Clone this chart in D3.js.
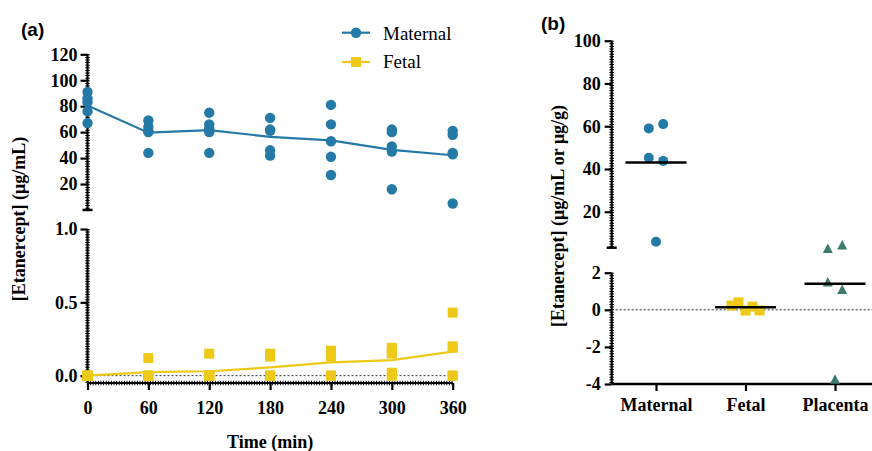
<!DOCTYPE html>
<html>
<head>
<meta charset="utf-8">
<script src="https://cdn.jsdelivr.net/npm/d3@7"></script>
<style>
  body { margin: 0; background: #fff; }
  svg { display: block; }
  .tick-text { font-family: "Liberation Serif", serif; font-weight: bold; font-size: 18px; fill: #000; }
  .axis-title { font-family: "Liberation Serif", serif; font-weight: bold; font-size: 18px; fill: #000; }
  .legend-text { font-family: "Liberation Serif", serif; font-size: 19px; fill: #000; }
  .panel-label { font-family: "Liberation Sans", Arial, sans-serif; font-weight: bold; font-size: 19px; fill: #000; }
</style>
</head>
<body>
<div id="chart"></div>
<script>
const TIME_POINTS = [0, 60, 120, 180, 240, 300, 360];
const MATERNAL_A = [
  [91, 86, 83, 76, 67],
  [69, 64, 61, 60, 44],
  [75, 66, 63, 60, 44],
  [71, 62, 61, 46, 42],
  [81, 66, 53, 41, 27],
  [62, 60, 49, 45, 16],
  [61, 58, 44, 43, 5],
];
const FETAL_A = [
  [0, 0, 0, 0, 0],
  [0.12, 0, 0, 0, 0],
  [0.15, 0, 0, 0, 0],
  [0.15, 0.13, 0, 0, 0],
  [0.17, 0.15, 0.13, 0, 0],
  [0.19, 0.17, 0.15, 0.02, 0],
  [0.43, 0.2, 0.19, 0, 0],
];
const A_UPPER_TICKS = [20, 40, 60, 80, 100, 120];
const A_LOWER_TICKS = [0, 0.5, 1.0];

const GROUPS_B = ["Maternal", "Fetal", "Placenta"];
const MATERNAL_B = [59, 61, 45.3, 43.8, 6];
const FETAL_B = [0.23, 0.4, -0.04, 0.17, -0.04];
const PLACENTA_B = [3.3, 3.5, 1.5, 1.1, -3.75];
const MEAN_LINES_B = [43, 0.14, 1.4];
const B_UPPER_TICKS = [20, 40, 60, 80, 100];
const B_LOWER_TICKS = [-4, -2, 0, 2];

const BLUE = "#2479a7";
const YELLOW = "#eec918";
const TEAL = "#3d7b6e";

const width = 872;
const height = 451;
const svg = d3.select("#chart").append("svg").attr("width", width).attr("height", height);

// axis line with the small ruler-like minor ticks
function rulerLine(g, x1, y1, x2, y2) {
  g.append("line").attr("x1", x1).attr("y1", y1).attr("x2", x2).attr("y2", y2)
    .attr("stroke", "#000").attr("stroke-width", 2.2);
  g.append("line").attr("x1", x1).attr("y1", y1).attr("x2", x2).attr("y2", y2)
    .attr("stroke", "#000").attr("stroke-width", 4.5).attr("stroke-dasharray", "1,1.6");
}

function cap(g, x, y) {
  g.append("line").attr("x1", x - 5).attr("x2", x + 5).attr("y1", y).attr("y2", y)
    .attr("stroke", "#000").attr("stroke-width", 2.5);
}

function styleAxis(group, cls) {
  group.select(".domain").remove();
  group.selectAll(".tick line").attr("stroke", "#000").attr("stroke-width", 2.2);
  group.selectAll("text").attr("class", cls).attr("fill", "#000");
}

function square(g, cx, cy, size, color) {
  g.append("rect").attr("x", cx - size / 2).attr("y", cy - size / 2)
    .attr("width", size).attr("height", size).attr("fill", color);
}

// ---------- panel (a) ----------
const xA = d3.scaleLinear().domain([0, 360]).range([87.5, 452.7]);
const yAUp = d3.scaleLinear().domain([0, 120]).range([210, 54.3]);
const yALow = d3.scaleLinear().domain([-0.05, 1]).range([383, 229]);

const panelA = svg.append("g");

panelA.append("g")
  .attr("transform", `translate(${xA(0)},0)`)
  .call(d3.axisLeft(yAUp).tickValues(A_UPPER_TICKS).tickSize(7).tickPadding(3))
  .call((g) => styleAxis(g, "tick-text"));

panelA.append("g")
  .attr("transform", `translate(${xA(0)},0)`)
  .call(d3.axisLeft(yALow).tickValues(A_LOWER_TICKS).tickSize(7).tickPadding(3).tickFormat(d3.format(".1f")))
  .call((g) => styleAxis(g, "tick-text"));

panelA.append("g")
  .attr("transform", `translate(0,${yALow(-0.05)})`)
  .call(d3.axisBottom(xA).tickValues(TIME_POINTS).tickSize(7).tickPadding(11))
  .call((g) => styleAxis(g, "tick-text"));

rulerLine(panelA, xA(0), yAUp(120), xA(0), yAUp(0));
cap(panelA, xA(0), yAUp(0));
rulerLine(panelA, xA(0), yALow(1), xA(0), yALow(-0.05));
rulerLine(panelA, xA(0), yALow(-0.05), xA(360), yALow(-0.05));

panelA.append("line")
  .attr("x1", xA(0)).attr("x2", xA(360)).attr("y1", yALow(0)).attr("y2", yALow(0))
  .attr("stroke", "#333").attr("stroke-width", 1).attr("stroke-dasharray", "2,2");

const maternalMeans = MATERNAL_A.map((vals, i) => ({ t: TIME_POINTS[i], v: d3.mean(vals) }));
const fetalMeans = FETAL_A.map((vals, i) => ({ t: TIME_POINTS[i], v: d3.mean(vals) }));

panelA.append("path")
  .datum(maternalMeans)
  .attr("fill", "none").attr("stroke", BLUE).attr("stroke-width", 2.2)
  .attr("d", d3.line().x((d) => xA(d.t)).y((d) => yAUp(d.v)));

panelA.append("path")
  .datum(fetalMeans)
  .attr("fill", "none").attr("stroke", YELLOW).attr("stroke-width", 2.2)
  .attr("d", d3.line().x((d) => xA(d.t)).y((d) => yALow(d.v)));

const maternalPts = MATERNAL_A.flatMap((vals, i) => vals.map((v) => ({ t: TIME_POINTS[i], v })));
const fetalPts = FETAL_A.flatMap((vals, i) => vals.map((v) => ({ t: TIME_POINTS[i], v })));

panelA.append("g").selectAll("circle").data(maternalPts).join("circle")
  .attr("cx", (d) => xA(d.t)).attr("cy", (d) => yAUp(d.v)).attr("r", 5.2).attr("fill", BLUE);

panelA.append("g").selectAll("rect").data(fetalPts).join("rect")
  .attr("x", (d) => xA(d.t) - 5).attr("y", (d) => yALow(d.v) - 5)
  .attr("width", 10).attr("height", 10).attr("fill", YELLOW);

panelA.append("text").attr("class", "axis-title")
  .attr("x", (xA(0) + xA(360)) / 2).attr("y", 448).attr("text-anchor", "middle")
  .text("Time (min)");

panelA.append("text").attr("class", "axis-title")
  .attr("transform", "translate(25,219) rotate(-90)").attr("text-anchor", "middle")
  .text("[Etanercept] (μg/mL)");

panelA.append("text").attr("class", "panel-label").attr("x", 21).attr("y", 36).text("(a)");

// legend
const legend = panelA.append("g").attr("transform", "translate(342,0)");
legend.append("line").attr("x1", 0).attr("x2", 28).attr("y1", 32.7).attr("y2", 32.7)
  .attr("stroke", BLUE).attr("stroke-width", 2.2);
legend.append("circle").attr("cx", 14).attr("cy", 32.7).attr("r", 5.2).attr("fill", BLUE);
legend.append("text").attr("class", "legend-text").attr("x", 41).attr("y", 40).text("Maternal");
legend.append("line").attr("x1", 0).attr("x2", 28).attr("y1", 62).attr("y2", 62)
  .attr("stroke", YELLOW).attr("stroke-width", 2.2);
square(legend, 14, 62, 10, YELLOW);
legend.append("text").attr("class", "legend-text").attr("x", 41).attr("y", 68).text("Fetal");

// ---------- panel (b) ----------
const xB = d3.scalePoint().domain(GROUPS_B).range([656, 835]);
const yBUp = d3.scaleLinear().domain([3.2, 100]).range([247.7, 40.7]);
const yBLow = d3.scaleLinear().domain([-4, 2]).range([384, 272.7]);
const axisXB = 611.7;

const panelB = svg.append("g");

panelB.append("g")
  .attr("transform", `translate(${axisXB},0)`)
  .call(d3.axisLeft(yBUp).tickValues(B_UPPER_TICKS).tickSize(7).tickPadding(4))
  .call((g) => styleAxis(g, "tick-text"));

panelB.append("g")
  .attr("transform", `translate(${axisXB},0)`)
  .call(d3.axisLeft(yBLow).tickValues(B_LOWER_TICKS).tickSize(7).tickPadding(4).tickFormat((d) => String(d)))
  .call((g) => styleAxis(g, "tick-text"));

panelB.append("g")
  .attr("transform", `translate(0,${yBLow(-4)})`)
  .call(d3.axisBottom(xB).tickSize(7).tickPadding(7))
  .call((g) => styleAxis(g, "tick-text"));

rulerLine(panelB, axisXB, yBUp(100), axisXB, yBUp(3.2));
cap(panelB, axisXB, yBUp(3.2));
rulerLine(panelB, axisXB, yBLow(2), axisXB, yBLow(-4));
panelB.append("line")
  .attr("x1", axisXB).attr("x2", width).attr("y1", yBLow(-4)).attr("y2", yBLow(-4))
  .attr("stroke", "#000").attr("stroke-width", 2.5);

panelB.append("line")
  .attr("x1", axisXB).attr("x2", width).attr("y1", yBLow(0)).attr("y2", yBLow(0))
  .attr("stroke", "#333").attr("stroke-width", 1).attr("stroke-dasharray", "2,2");

const yB = (group, v) => (group === "Maternal" ? yBUp(v) : yBLow(v));

// spread points that would overlap side by side, like a column scatter
function spreadOffsets(ys, markerSize, maxWidth) {
  const order = ys.map((y, i) => i).sort((a, b) => ys[a] - ys[b]);
  const clusters = [];
  order.forEach((idx) => {
    const last = clusters[clusters.length - 1];
    if (last && ys[idx] - ys[last[last.length - 1]] < markerSize) last.push(idx);
    else clusters.push([idx]);
  });
  const offsets = new Array(ys.length).fill(0);
  clusters.forEach((c) => {
    c.sort((a, b) => a - b);
    const step = c.length > 1 ? Math.min(14.4, maxWidth / (c.length - 1)) : 0;
    c.forEach((idx, k) => { offsets[idx] = (k - (c.length - 1) / 2) * step; });
  });
  return offsets;
}

const seriesB = [
  { group: "Maternal", values: MATERNAL_B, color: BLUE, shape: "circle" },
  { group: "Fetal", values: FETAL_B, color: YELLOW, shape: "square" },
  { group: "Placenta", values: PLACENTA_B, color: TEAL, shape: "triangle" },
];

seriesB.forEach((s) => {
  const ys = s.values.map((v) => yB(s.group, v));
  const offs = spreadOffsets(ys, 9.5, 28);
  const g = panelB.append("g");
  s.values.forEach((v, i) => {
    const cx = xB(s.group) + offs[i];
    const cy = ys[i];
    if (s.shape === "circle") {
      g.append("circle").attr("cx", cx).attr("cy", cy).attr("r", 5).attr("fill", s.color);
    } else if (s.shape === "square") {
      square(g, cx, cy, 10, s.color);
    } else {
      g.append("path")
        .attr("d", `M${cx},${cy - 5}L${cx + 5},${cy + 4.5}L${cx - 5},${cy + 4.5}Z`)
        .attr("fill", s.color);
    }
  });
});

panelB.append("g").selectAll("line").data(GROUPS_B).join("line")
  .attr("x1", (d) => xB(d) - 30.5).attr("x2", (d) => xB(d) + 30.5)
  .attr("y1", (d, i) => yB(d, MEAN_LINES_B[i])).attr("y2", (d, i) => yB(d, MEAN_LINES_B[i]))
  .attr("stroke", "#000").attr("stroke-width", 2.5);

panelB.append("text").attr("class", "axis-title")
  .attr("transform", "translate(564,216) rotate(-90)").attr("text-anchor", "middle")
  .text("[Etanercept] (μg/mL or μg/g)");

panelB.append("text").attr("class", "panel-label").attr("x", 541).attr("y", 29.5).text("(b)");
</script>
</body>
</html>
